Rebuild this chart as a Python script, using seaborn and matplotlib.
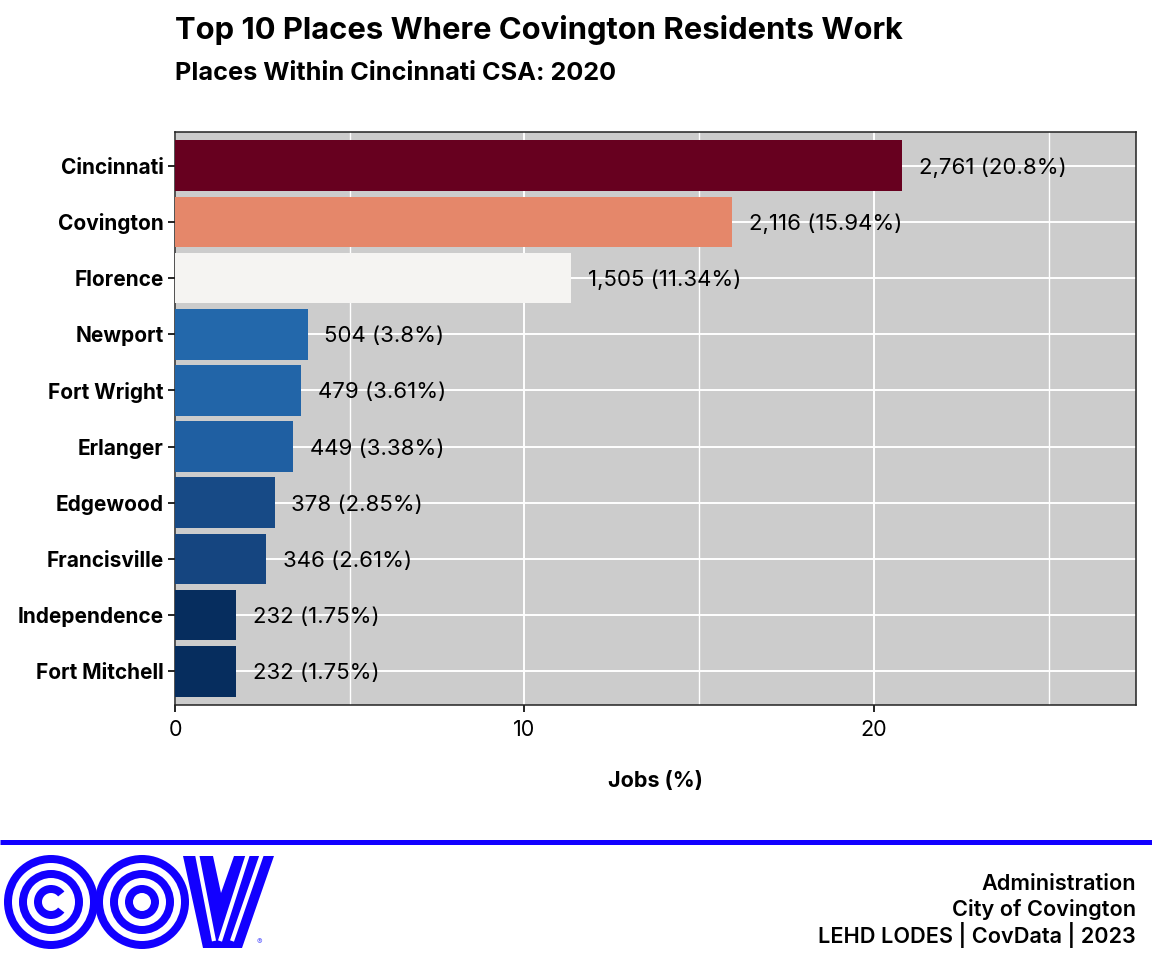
import matplotlib
matplotlib.use("Agg")
import matplotlib.pyplot as plt
import seaborn as sns
import pandas as pd
from matplotlib.patches import Circle, Wedge, Polygon
from matplotlib.ticker import MultipleLocator

# ---------------- data ----------------
places = ["Cincinnati", "Covington", "Florence", "Newport", "Fort Wright",
          "Erlanger", "Edgewood", "Francisville", "Independence", "Fort Mitchell"]
jobs = [2761, 2116, 1505, 504, 479, 449, 378, 346, 232, 232]
pct = [20.8, 15.94, 11.34, 3.8, 3.61, 3.38, 2.85, 2.61, 1.75, 1.75]
bar_colors = ["#67001F", "#E5876A", "#F5F4F2", "#2368AB", "#2265A8",
              "#1F5FA2", "#174A86", "#154580", "#062D5E", "#062D5E"]

title = "Top 10 Places Where Covington Residents Work"
subtitle = "Places Within Cincinnati CSA: 2020"
xlabel = "Jobs (%)"
footer = ["Administration", "City of Covington", "LEHD LODES | CovData | 2023"]

df = pd.DataFrame({"place": places, "jobs": jobs, "pct": pct})

sns.set_theme(style="white")
plt.rcParams["font.family"] = ["Inter", "DejaVu Sans"]

W, H = 1152, 960
fig = plt.figure(figsize=(W / 100, H / 100), dpi=100)

# overlay axes in pixel coordinates for the footer logo
deco = fig.add_axes([0, 0, 1, 1], zorder=0)
deco.set_xlim(0, W)
deco.set_ylim(H, 0)
deco.axis("off")

ax = fig.add_axes([175 / W, 1 - 705 / H, (1136 - 175) / W, (705 - 132) / H], zorder=1)
ax.set_facecolor("#CCCCCC")

sns.barplot(data=df, x="pct", y="place", hue="place", palette=bar_colors,
            order=places, hue_order=places, width=0.9, orient="h",
            legend=False, saturation=1, ax=ax, zorder=3)
for p in ax.patches:
    p.set_edgecolor("none")

ax.set_xlim(0, 27.5)
ax.set_ylim(len(places) - 0.4, -0.6)
ax.xaxis.set_major_locator(MultipleLocator(10))
ax.xaxis.set_minor_locator(MultipleLocator(5))
ax.grid(True, which="major", axis="both", color="white", linewidth=1.4, zorder=0)
ax.grid(True, which="minor", axis="x", color="white", linewidth=1.0, zorder=0)
ax.set_axisbelow(True)

for s in ax.spines.values():
    s.set_visible(True)
    s.set_color("#222222")
    s.set_linewidth(1.1)

ax.tick_params(axis="both", which="major", length=5, width=1.2, color="black",
               bottom=True, left=True)
ax.tick_params(axis="x", which="minor", length=0)
ax.tick_params(axis="y", pad=3, labelsize=15)
ax.tick_params(axis="x", pad=6, labelsize=15.5)
for lab in ax.get_yticklabels():
    lab.set_fontweight("bold")
    lab.set_color("black")
for lab in ax.get_xticklabels():
    lab.set_color("black")

ax.set_ylabel("")
ax.set_xlabel(xlabel, fontsize=15.5, fontweight="bold", color="black", labelpad=22)

for i, (n, v) in enumerate(zip(jobs, pct)):
    ax.annotate(f"{n:,} ({v:g}%)", xy=(v, i), xytext=(12, -1.5),
                textcoords="offset points", ha="left", va="center",
                fontsize=16, color="black", zorder=5)

# titles
fig.text(175 / W, 1 - 30 / H, title, fontsize=22.3, fontweight="bold",
         ha="left", va="center", color="black")
fig.text(175 / W, 1 - 73 / H, subtitle, fontsize=18.2, fontweight="bold",
         ha="left", va="center", color="black")

# footer rule
blue = "#1200FF"
deco.plot([0, W], [842, 842], color=blue, linewidth=3.6, solid_capstyle="butt")

# footer text
for yy, t in zip([884, 910, 935], footer):
    fig.text(1136 / W, 1 - yy / H, t, fontsize=15.6, fontweight="semibold",
             ha="right", va="center", color="black")

# logo: C
c1 = (51, 902)
for r, col in [(47, blue), (39, "white"), (32, blue), (24, "white")]:
    deco.add_patch(Circle(c1, r, facecolor=col, edgecolor="none"))
deco.add_patch(Wedge(c1, 17, 38, 322, width=8, facecolor=blue, edgecolor="none"))
# logo: O
c2 = (142, 902)
for r, col in [(47, blue), (39, "white"), (32, blue), (24, "white"), (17, blue), (9, "white")]:
    deco.add_patch(Circle(c2, r, facecolor=col, edgecolor="none"))
# logo: V
deco.add_patch(Polygon([(183, 856), (203, 948), (242, 948), (274, 856),
                        (234, 856), (221, 893), (213, 856)],
                       closed=True, facecolor=blue, edgecolor="none"))
deco.plot([197, 214], [854, 941], color="white", linewidth=3.0, solid_capstyle="butt")
deco.plot([248, 220], [854, 941], color="white", linewidth=3.0, solid_capstyle="butt")
deco.plot([262, 232], [854, 941], color="white", linewidth=3.0, solid_capstyle="butt")
deco.text(259, 942, "®", fontsize=6, color="#6666FF", ha="center", va="center")

fig.savefig("out.png", dpi=100, facecolor="white")
